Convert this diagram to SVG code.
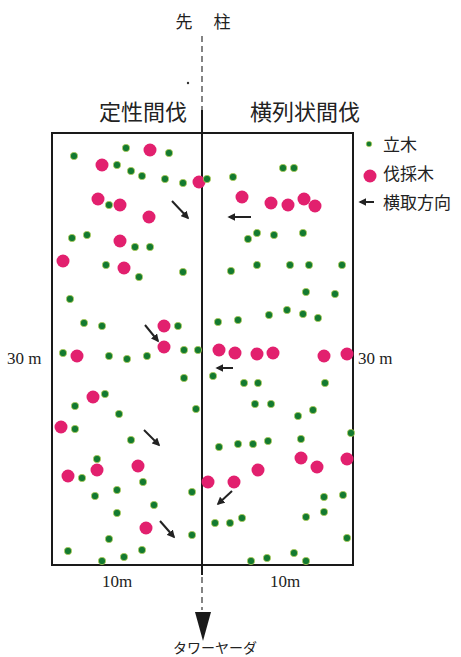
<svg xmlns="http://www.w3.org/2000/svg" width="461" height="657" viewBox="0 0 461 657">
<style>
.g{fill:#137a30;stroke:#d8e060;stroke-width:0.6}
.p{fill:#e2206e}
.ar{stroke:#222;stroke-width:2;fill:none;marker-end:url(#ah)}
.jp{font-family:"Noto Sans CJK JP","Noto Sans",sans-serif;fill:#222}
.sf{font-family:"Liberation Serif",serif;fill:#222}
.frame{fill:none;stroke:#1a1a1a;stroke-width:2}
.dash{stroke:#333;stroke-width:1.2;stroke-dasharray:6,4;fill:none}
</style>
<defs>
<marker id="ah" viewBox="0 0 10 10" refX="8" refY="5" markerWidth="4" markerHeight="4" orient="auto" markerUnits="strokeWidth">
<path d="M0,0 L10,5 L0,10 z" fill="#222"/>
</marker>
</defs>
<rect width="461" height="657" fill="#fff"/>
<g id="labels">
<text class="jp" x="184" y="28" font-size="17" text-anchor="middle">先</text>
<text class="jp" x="222" y="28" font-size="17" text-anchor="middle">柱</text>
<text class="jp" x="143" y="120" font-size="22" text-anchor="middle">定性間伐</text>
<text class="jp" x="305" y="120" font-size="22" text-anchor="middle">横列状間伐</text>
<text class="sf" x="7" y="364" font-size="17">30 m</text>
<text class="sf" x="358" y="364" font-size="17">30 m</text>
<text class="sf" x="117" y="587" font-size="17" text-anchor="middle">10m</text>
<text class="sf" x="285" y="587" font-size="17" text-anchor="middle">10m</text>
<text class="jp" x="215" y="653" font-size="14" text-anchor="middle">タワーヤーダ</text>
</g>
<g id="plot">
<line class="dash" x1="202" y1="36" x2="202" y2="110"/>
<circle cx="188" cy="83" r="1.2" fill="#333"/>
<rect class="frame" x="52" y="133" width="301" height="432"/>
<line x1="202" y1="110" x2="202" y2="575" stroke="#1a1a1a" stroke-width="2"/>
<line class="dash" x1="202" y1="577" x2="202" y2="610"/>
<polygon points="195,612 211,612 203,641" fill="#1a1a1a"/>
</g>
<g id="fell">
<circle class="p" cx="150" cy="150" r="6.5"/>
<circle class="p" cx="102" cy="165" r="6.5"/>
<circle class="p" cx="199" cy="182" r="6.5"/>
<circle class="p" cx="98" cy="199" r="6.5"/>
<circle class="p" cx="120" cy="205" r="6.5"/>
<circle class="p" cx="149" cy="217" r="6.5"/>
<circle class="p" cx="120" cy="241" r="6.5"/>
<circle class="p" cx="63" cy="261" r="6.5"/>
<circle class="p" cx="124" cy="268" r="6.5"/>
<circle class="p" cx="164" cy="326" r="6.5"/>
<circle class="p" cx="164" cy="347" r="6.5"/>
<circle class="p" cx="77" cy="356" r="6.5"/>
<circle class="p" cx="93" cy="397" r="6.5"/>
<circle class="p" cx="61" cy="427" r="6.5"/>
<circle class="p" cx="97" cy="470" r="6.5"/>
<circle class="p" cx="68" cy="476" r="6.5"/>
<circle class="p" cx="138" cy="466" r="6.5"/>
<circle class="p" cx="146" cy="528" r="6.5"/>
<circle class="p" cx="242" cy="197" r="6.5"/>
<circle class="p" cx="271" cy="203" r="6.5"/>
<circle class="p" cx="288" cy="205" r="6.5"/>
<circle class="p" cx="304" cy="199" r="6.5"/>
<circle class="p" cx="315" cy="206" r="6.5"/>
<circle class="p" cx="219" cy="350" r="6.5"/>
<circle class="p" cx="235" cy="353" r="6.5"/>
<circle class="p" cx="257" cy="354" r="6.5"/>
<circle class="p" cx="273" cy="353" r="6.5"/>
<circle class="p" cx="324" cy="356" r="6.5"/>
<circle class="p" cx="347" cy="354" r="6.5"/>
<circle class="p" cx="301" cy="458" r="6.5"/>
<circle class="p" cx="317" cy="467" r="6.5"/>
<circle class="p" cx="347" cy="459" r="6.5"/>
<circle class="p" cx="258" cy="470" r="6.5"/>
<circle class="p" cx="208" cy="482" r="6.5"/>
<circle class="p" cx="234" cy="482" r="6.5"/>
</g>
<g id="standing">
<circle class="g" cx="74" cy="156" r="3.7"/>
<circle class="g" cx="126" cy="148" r="3.7"/>
<circle class="g" cx="169" cy="153" r="3.7"/>
<circle class="g" cx="117" cy="165" r="3.7"/>
<circle class="g" cx="131" cy="171" r="3.7"/>
<circle class="g" cx="142" cy="176" r="3.7"/>
<circle class="g" cx="165" cy="179" r="3.7"/>
<circle class="g" cx="183" cy="183" r="3.7"/>
<circle class="g" cx="207" cy="179" r="3.7"/>
<circle class="g" cx="109" cy="205" r="3.7"/>
<circle class="g" cx="72" cy="238" r="3.7"/>
<circle class="g" cx="87" cy="235" r="3.7"/>
<circle class="g" cx="135" cy="247" r="3.7"/>
<circle class="g" cx="150" cy="247" r="3.7"/>
<circle class="g" cx="106" cy="265" r="3.7"/>
<circle class="g" cx="139" cy="277" r="3.7"/>
<circle class="g" cx="183" cy="272" r="3.7"/>
<circle class="g" cx="233" cy="177" r="3.7"/>
<circle class="g" cx="283" cy="168" r="3.7"/>
<circle class="g" cx="294" cy="168" r="3.7"/>
<circle class="g" cx="257" cy="233" r="3.7"/>
<circle class="g" cx="248" cy="239" r="3.7"/>
<circle class="g" cx="274" cy="235" r="3.7"/>
<circle class="g" cx="303" cy="233" r="3.7"/>
<circle class="g" cx="231" cy="271" r="3.7"/>
<circle class="g" cx="257" cy="265" r="3.7"/>
<circle class="g" cx="290" cy="265" r="3.7"/>
<circle class="g" cx="309" cy="265" r="3.7"/>
<circle class="g" cx="342" cy="265" r="3.7"/>
<circle class="g" cx="70" cy="299" r="3.7"/>
<circle class="g" cx="84" cy="323" r="3.7"/>
<circle class="g" cx="102" cy="326" r="3.7"/>
<circle class="g" cx="178" cy="326" r="3.7"/>
<circle class="g" cx="184" cy="350" r="3.7"/>
<circle class="g" cx="198" cy="350" r="3.7"/>
<circle class="g" cx="63" cy="353" r="3.7"/>
<circle class="g" cx="109" cy="356" r="3.7"/>
<circle class="g" cx="127" cy="359" r="3.7"/>
<circle class="g" cx="147" cy="356" r="3.7"/>
<circle class="g" cx="184" cy="378" r="3.7"/>
<circle class="g" cx="105" cy="394" r="3.7"/>
<circle class="g" cx="75" cy="406" r="3.7"/>
<circle class="g" cx="119" cy="414" r="3.7"/>
<circle class="g" cx="196" cy="409" r="3.7"/>
<circle class="g" cx="306" cy="292" r="3.7"/>
<circle class="g" cx="335" cy="294" r="3.7"/>
<circle class="g" cx="218" cy="322" r="3.7"/>
<circle class="g" cx="238" cy="320" r="3.7"/>
<circle class="g" cx="269" cy="315" r="3.7"/>
<circle class="g" cx="287" cy="310" r="3.7"/>
<circle class="g" cx="303" cy="314" r="3.7"/>
<circle class="g" cx="318" cy="318" r="3.7"/>
<circle class="g" cx="213" cy="376" r="3.7"/>
<circle class="g" cx="244" cy="383" r="3.7"/>
<circle class="g" cx="258" cy="383" r="3.7"/>
<circle class="g" cx="325" cy="383" r="3.7"/>
<circle class="g" cx="255" cy="404" r="3.7"/>
<circle class="g" cx="271" cy="404" r="3.7"/>
<circle class="g" cx="298" cy="416" r="3.7"/>
<circle class="g" cx="313" cy="410" r="3.7"/>
<circle class="g" cx="75" cy="429" r="3.7"/>
<circle class="g" cx="131" cy="440" r="3.7"/>
<circle class="g" cx="97" cy="459" r="3.7"/>
<circle class="g" cx="82" cy="478" r="3.7"/>
<circle class="g" cx="143" cy="482" r="3.7"/>
<circle class="g" cx="117" cy="490" r="3.7"/>
<circle class="g" cx="95" cy="496" r="3.7"/>
<circle class="g" cx="192" cy="492" r="3.7"/>
<circle class="g" cx="154" cy="505" r="3.7"/>
<circle class="g" cx="117" cy="513" r="3.7"/>
<circle class="g" cx="109" cy="539" r="3.7"/>
<circle class="g" cx="192" cy="535" r="3.7"/>
<circle class="g" cx="68" cy="551" r="3.7"/>
<circle class="g" cx="102" cy="561" r="3.7"/>
<circle class="g" cx="124" cy="557" r="3.7"/>
<circle class="g" cx="142" cy="550" r="3.7"/>
<circle class="g" cx="351" cy="433" r="3.7"/>
<circle class="g" cx="219" cy="447" r="3.7"/>
<circle class="g" cx="238" cy="444" r="3.7"/>
<circle class="g" cx="253" cy="444" r="3.7"/>
<circle class="g" cx="268" cy="441" r="3.7"/>
<circle class="g" cx="301" cy="439" r="3.7"/>
<circle class="g" cx="324" cy="497" r="3.7"/>
<circle class="g" cx="343" cy="495" r="3.7"/>
<circle class="g" cx="324" cy="512" r="3.7"/>
<circle class="g" cx="306" cy="517" r="3.7"/>
<circle class="g" cx="215" cy="523" r="3.7"/>
<circle class="g" cx="230" cy="523" r="3.7"/>
<circle class="g" cx="242" cy="518" r="3.7"/>
<circle class="g" cx="347" cy="538" r="3.7"/>
<circle class="g" cx="251" cy="561" r="3.7"/>
<circle class="g" cx="267" cy="558" r="3.7"/>
<circle class="g" cx="294" cy="553" r="3.7"/>
<circle class="g" cx="306" cy="561" r="3.7"/>
</g>
<g id="connectors">
<line class="ar" x1="172" y1="201" x2="188" y2="218"/>
<line class="ar" x1="251" y1="217" x2="229" y2="217"/>
<line class="ar" x1="145" y1="325" x2="158" y2="341"/>
<line class="ar" x1="233" y1="368" x2="217" y2="368"/>
<line class="ar" x1="144" y1="430" x2="159" y2="445"/>
<line class="ar" x1="160" y1="521" x2="174" y2="537"/>
<line class="ar" x1="232" y1="491" x2="218" y2="504"/>
</g>
<g id="legend">
<circle class="g" cx="369" cy="144" r="2.8"/>
<text class="jp" x="383" y="151" font-size="17">立木</text>
<circle class="p" cx="370" cy="176" r="6.5"/>
<text class="jp" x="383" y="180" font-size="17">伐採木</text>
<line class="ar" x1="374" y1="202" x2="360" y2="202"/>
<text class="jp" x="383" y="209" font-size="17">横取方向</text>
</g>
</svg>
